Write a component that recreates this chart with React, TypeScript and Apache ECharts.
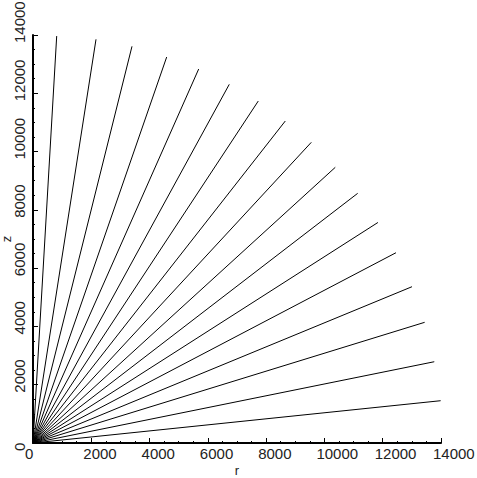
import React, { useEffect, useRef } from "react";
import * as echarts from "echarts";

// Ray end points (r, z); each ray starts at the origin.
const rayEndR = [13988, 13769, 13439, 13004, 12455, 11836, 11141, 10372, 9549, 8657, 7730, 6735, 5685, 4587, 3397, 2162, 813];
const rayEndZ = [1451, 2789, 4141, 5363, 6529, 7567, 8567, 9459, 10317, 11048, 11734, 12307, 12832, 13244, 13611, 13851, 13964];

const axisMin = 0;
const axisMax = 14000;
const axisStep = 2000;
const xName = "r";
const yName = "z";

const FONT = "'Liberation Sans', 'DejaVu Sans', sans-serif";

export default function App() {
  const ref = useRef<HTMLDivElement>(null);
  useEffect(() => {
    if (!ref.current) return;
    const chart = echarts.init(ref.current, undefined, { renderer: "svg" });
    const series = rayEndR.map((r, i) => ({
      type: "line" as const,
      data: [
        [0, 0],
        [r, rayEndZ[i]],
      ],
      showSymbol: false,
      symbol: "none",
      lineStyle: { color: "#000", width: 1 },
      silent: true,
    }));
    const fmt = (v: number) => String(v);
    const axisCommon = {
      type: "value" as const,
      min: axisMin,
      max: axisMax,
      interval: axisStep,
      splitLine: { show: false },
      axisLine: { show: true, lineStyle: { color: "#000", width: 2 } },
      axisTick: { show: true, inside: true, length: 5, lineStyle: { color: "#000", width: 1 } },
      minorTick: { show: true, splitNumber: 4, length: 2, lineStyle: { color: "#000", width: 1 } },
      minorSplitLine: { show: false },
      nameMoveOverlap: false,
      nameTextStyle: { color: "#222", fontFamily: FONT, fontSize: 13 },
    };
    chart.setOption({
      animation: false,
      backgroundColor: "#fff",
      grid: {
        left: 33,
        top: 35,
        width: 408,
        height: 408,
        containLabel: false,
        outerBoundsMode: "none",
      },
      xAxis: {
        ...axisCommon,
        name: xName,
        nameLocation: "middle",
        nameGap: 21,
        axisLabel: {
          color: "#222",
          fontFamily: FONT,
          fontSize: 15,
          margin: 3,
          align: "left",
          padding: [0, 0, 0, -8],
          formatter: fmt,
          showMinLabel: true,
          showMaxLabel: true,
          hideOverlap: false,
        },
      },
      yAxis: {
        ...axisCommon,
        name: yName,
        nameLocation: "middle",
        nameRotate: 90,
        nameGap: 20,
        axisLabel: {
          color: "#222",
          fontFamily: FONT,
          fontSize: 15,
          margin: 6,
          rotate: 90,
          align: "left",
          verticalAlign: "bottom",
          padding: [0, 0, 0, -8],
          formatter: fmt,
          showMinLabel: true,
          showMaxLabel: true,
          hideOverlap: false,
        },
      },
      series,
    });
    return () => chart.dispose();
  }, []);
  return (
    <div
      ref={ref}
      style={{ position: "fixed", left: 0, top: 0, width: 477, height: 478, background: "#fff" }}
    />
  );
}
